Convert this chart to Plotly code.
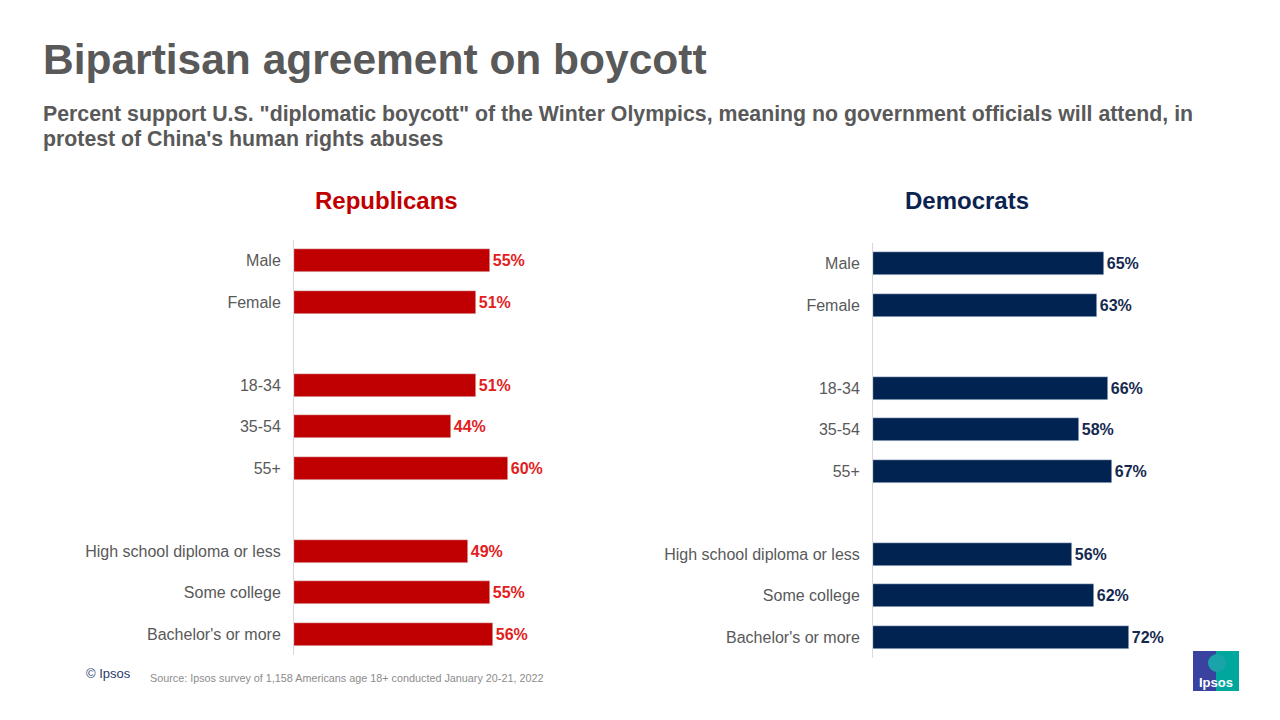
import plotly.graph_objects as go

categories = ["Male", "Female", "18-34", "35-54", "55+",
              "High school diploma or less", "Some college", "Bachelor's or more"]
row_order = ["Male", "Female", " ", "18-34", "35-54", "55+", "  ",
             "High school diploma or less", "Some college", "Bachelor's or more"]
republicans = [55, 51, 51, 44, 60, 49, 55, 56]
democrats = [65, 63, 66, 58, 67, 56, 62, 72]

RED = "#C00000"
RED_TXT = "#E2201C"
NAVY = "#002352"
NAVY_TXT = "#15294F"
GRAY = "#595959"
FONT = "Liberation Sans, Arial, sans-serif"

# page body has an 8px default margin; figure is sized to fill the rest
OX, OY = 8, 8
W, H = 1280 - OX, 720 - OY
def px(x):
    return (x - OX) / W
def py(y):
    return 1 - (y - OY) / H

fig = go.Figure()
fig.add_trace(go.Bar(
    x=republicans, y=categories, orientation="h", marker_color=RED, width=0.55,
    texttemplate="%{x}%", textposition="outside", cliponaxis=False,
    textfont=dict(family=FONT, size=16, color=RED_TXT, weight="bold"),
    xaxis="x", yaxis="y", hoverinfo="skip"))
fig.add_trace(go.Bar(
    x=democrats, y=categories, orientation="h", marker_color=NAVY, width=0.55,
    texttemplate="%{x}%", textposition="outside", cliponaxis=False,
    textfont=dict(family=FONT, size=16, color=NAVY_TXT, weight="bold"),
    xaxis="x2", yaxis="y2", hoverinfo="skip"))

xax = dict(range=[0, 100], visible=False, fixedrange=True)
yax = dict(type="category", categoryorder="array", categoryarray=row_order,
           autorange=False, range=[9.5, -0.5], showline=True, linecolor="#D9D9D9",
           linewidth=1, showgrid=False, zeroline=False, ticks="outside", ticklen=9,
           tickcolor="rgba(0,0,0,0)",
           tickfont=dict(family=FONT, size=16, color=GRAY))

fig.update_layout(
    width=W, height=H, margin=dict(l=0, r=0, t=0, b=0),
    paper_bgcolor="white", plot_bgcolor="white", showlegend=False,
    bargap=0,
    xaxis=dict(xax, domain=[px(294), px(650)], anchor="y"),
    yaxis=dict(yax, domain=[py(655), py(240)], anchor="x"),
    xaxis2=dict(xax, domain=[px(873), px(1229)], anchor="y2"),
    yaxis2=dict(yax, domain=[py(658), py(243)], anchor="x2"),
)

def txt(x, y, s, size, color, bold=False, xanchor="left"):
    fig.add_annotation(x=px(x), y=py(y), xref="paper", yref="paper", text=s,
                       showarrow=False, xanchor=xanchor, yanchor="middle", align="left",
                       font=dict(family=FONT, size=size, color=color,
                                 weight="bold" if bold else "normal"))

txt(41, 60, "Bipartisan agreement on boycott", 42.5, GRAY, True)
txt(41, 114, 'Percent support U.S. "diplomatic boycott" of the Winter Olympics, meaning no government officials will attend, in', 21.3, GRAY, True)
txt(41, 139, "protest of China's human rights abuses", 21.3, GRAY, True)
txt(386, 200, "Republicans", 24, RED, True, "center")
txt(967, 200, "Democrats", 24, "#0B2350", True, "center")
txt(84, 673, "© Ipsos", 13, "#1F3A6E")
txt(148, 678, "Source: Ipsos survey of 1,158 Americans age 18+ conducted January 20-21, 2022", 10.8, "#8C8C8C")

# Ipsos logo
fig.add_shape(type="rect", xref="paper", yref="paper", x0=px(1193), x1=px(1216),
              y0=py(691), y1=py(651), fillcolor="#3A42A0", line_width=0, layer="above")
fig.add_shape(type="rect", xref="paper", yref="paper", x0=px(1216), x1=px(1239),
              y0=py(691), y1=py(651), fillcolor="#00A79D", line_width=0, layer="above")
fig.add_shape(type="circle", xref="paper", yref="paper", x0=px(1208), x1=px(1226),
              y0=py(672), y1=py(654), fillcolor="#1AA3A8", line_width=0, layer="above")
txt(1216, 682, "Ipsos", 13, "white", True, "center")

fig.write_html("out.html")
